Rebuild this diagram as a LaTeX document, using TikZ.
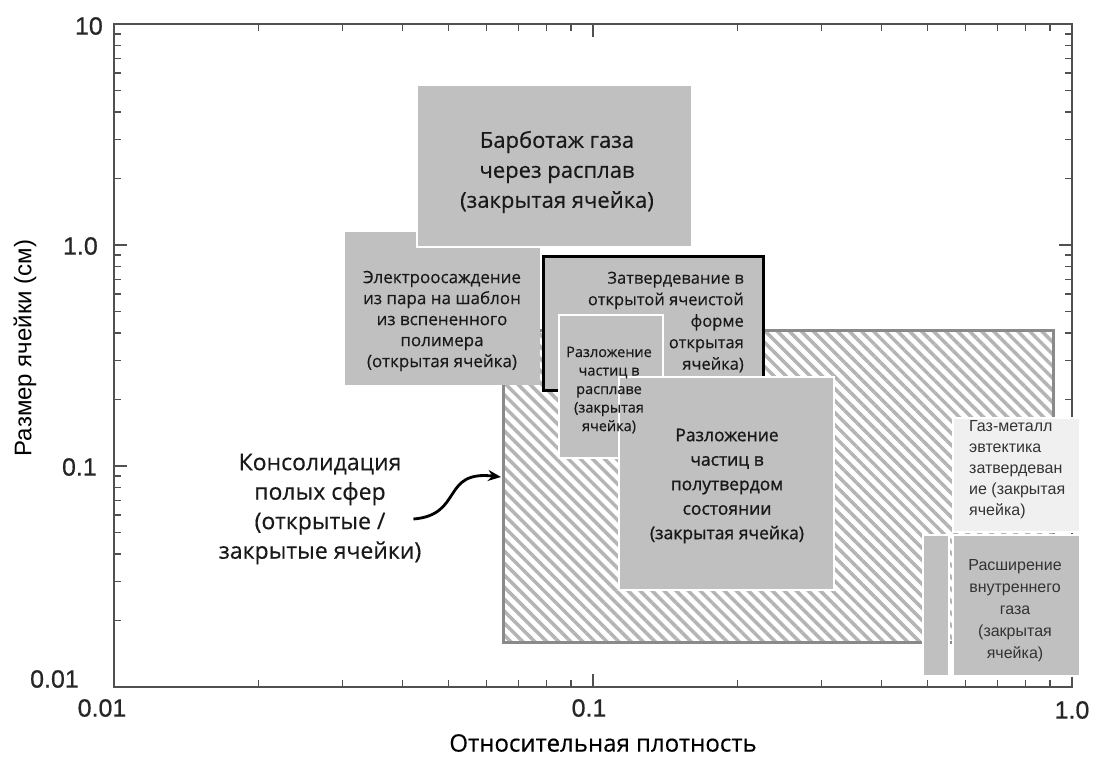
\documentclass[tikz,border=0pt]{standalone}
\usepackage{fontspec}
\setmainfont[FakeBold=0.35]{Open Sans}
\newfontfamily\arialfont{Liberation Sans}
\newfontfamily\numfont[FakeBold=0.6]{Liberation Sans}
\newfontfamily\semifont[FakeBold=1.1]{Open Sans}
\usetikzlibrary{calc,arrows.meta,patterns.meta}

\definecolor{boxgray}{HTML}{C0C0C0}
\definecolor{palegray}{HTML}{F0F0F0}
\definecolor{axisgray}{HTML}{505050}
\definecolor{hatchgray}{HTML}{B4B4B4}
\definecolor{framegray}{HTML}{8A8A8A}

\begin{document}
\begin{tikzpicture}[x=1pt,y=-1pt,
  tick/.style={draw=axisgray, line width=1.3pt},
  method/.style={fill=boxgray, draw=white, line width=2.5pt, outer sep=0pt, inner sep=0pt, anchor=north west},
  boxtext/.style={align=center, inner sep=0pt, text=black!90},
  numtext/.style={font=\numfont\fontsize{25}{29}\selectfont, text=black!85, inner sep=0pt},
  pointer/.style={-{Stealth[length=13pt,width=11pt]}, line width=2.8pt}]
  \fill[white] (0,0) rectangle (1094,756);
  \useasboundingbox (0,0) rectangle (1094,756);
  % Axes
  \draw[tick] (114,24) rectangle (1072,687);
  \foreach \d in {0,1,2}{
    \foreach \m in {2,...,9}{
      \pgfmathsetmacro{\ty}{687-221*(\d+log10(\m))}
      \draw[tick] (114,\ty) -- ++(7,0);
      \draw[tick] (1072,\ty) -- ++(-7,0);
    }
  }
  \foreach \d in {0,1}{
    \foreach \m in {2,...,9}{
      \pgfmathsetmacro{\tx}{114+479*(\d+log10(\m))}
      \draw[tick] (\tx,687) -- ++(0,-7);
      \draw[tick] (\tx,24) -- ++(0,7);
    }
  }
  \foreach \ty in {245,466}{
    \draw[tick] (114,\ty) -- ++(13,0);
    \draw[tick] (1072,\ty) -- ++(-13,0);
  }
  \draw[tick] (593,687) -- ++(0,-13);
  \draw[tick] (593,24) -- ++(0,13);
  \node[numtext, anchor=east] (y10) at (103,26) {10};
  \node[numtext, anchor=east] (y1) at (98,246) {1.0};
  \node[numtext, anchor=east] (y01) at (97,467) {0.1};
  \node[numtext, anchor=east] (y001) at (79,679) {0.01};
  \node[numtext] (x001) at (102,708) {0.01};
  \node[numtext] (x01) at (589,708) {0.1};
  \node[numtext] (x1) at (1072,710) {1.0};
  \node[font=\arialfont\fontsize{24}{28}\selectfont, rotate=90] (ytitle) at (25,348) {Размер ячейки (см)};
  \node[font=\fontsize{24}{28}\selectfont] (xtitle) at (603,743) {Относительная плотность};
  % Boxes
  \node[method, draw=framegray, line width=3pt, pattern={Lines[angle=-45,distance=8.5pt,line width=3.5pt]}, pattern color=hatchgray, minimum width=550pt, minimum height=312pt] (hollow) at (503,330) {};
  \node[method, draw=none, minimum width=195pt, minimum height=153pt] (electro) at (345,232) {};
  \node[method, minimum width=275pt, minimum height=162pt] (barb) at (417,85) {};
  \node[method, draw=black, line width=3pt, minimum width=220pt, minimum height=134pt] (solid) at (543,256) {};
  \node[method, minimum width=104pt, minimum height=143pt] (melt) at (559,315) {};
  \node[method, minimum width=215pt, minimum height=213pt] (semi) at (619,377) {};
  \node[method, fill=palegray, minimum width=127pt, minimum height=114pt] (eutec) at (953,418) {};
  \node[method, minimum width=26pt, minimum height=141pt] (strip) at (923,535) {};
  \node[method, minimum width=127pt, minimum height=141pt] (expand) at (953,535) {};
  % Texts
  \node[boxtext, font=\fontsize{22}{30}\selectfont] (barbtext) at (557,172) {Барботаж газа\\через расплав\\(закрытая ячейка)};
  \node[boxtext, font=\fontsize{17}{21}\selectfont] (electrotext) at (442,321) {Электроосаждение\\из пара на шаблон\\из вспененного\\полимера\\(открытая ячейка)};
  \node[boxtext, align=right, anchor=east, font=\fontsize{16.5}{21.5}\selectfont] (solidtext) at (744,322) {Затвердевание в\\открытой ячеистой\\форме\\открытая\\ячейка)};
  \node[boxtext, font=\fontsize{14.5}{18.5}\selectfont] (melttext) at (609,390) {Разложение\\частиц в\\расплаве\\(закрытая\\ячейка)};
  \node[boxtext, font=\semifont\fontsize{17.5}{24.5}\selectfont] (semitext) at (727,486) {Разложение\\частиц в\\полутвердом\\состоянии\\(закрытая ячейка)};
  \node[boxtext, align=left, anchor=west, font=\arialfont\fontsize{16}{21}\selectfont, text=black!80] (eutectext) at (969,470) {Газ-металл\\эвтектика\\затвердеван\\ие (закрытая\\ячейка)};
  \node[boxtext, font=\arialfont\fontsize{16}{22}\selectfont, text=black!80] (expandtext) at (1015,611) {Расширение\\внутреннего\\газа\\(закрытая\\ячейка)};
  \node[boxtext, font=\fontsize{23}{29.5}\selectfont] (cons) at (320,509) {Консолидация\\полых сфер\\(открытые /\\закрытые ячейки)};
  % Edges
  \draw[pointer] ($(cons.east)+(-8,10)$) .. controls +(50,-4) and +(-60,-7) .. ($(hollow.west)+(-2,-9)$);
\end{tikzpicture}
\end{document}
